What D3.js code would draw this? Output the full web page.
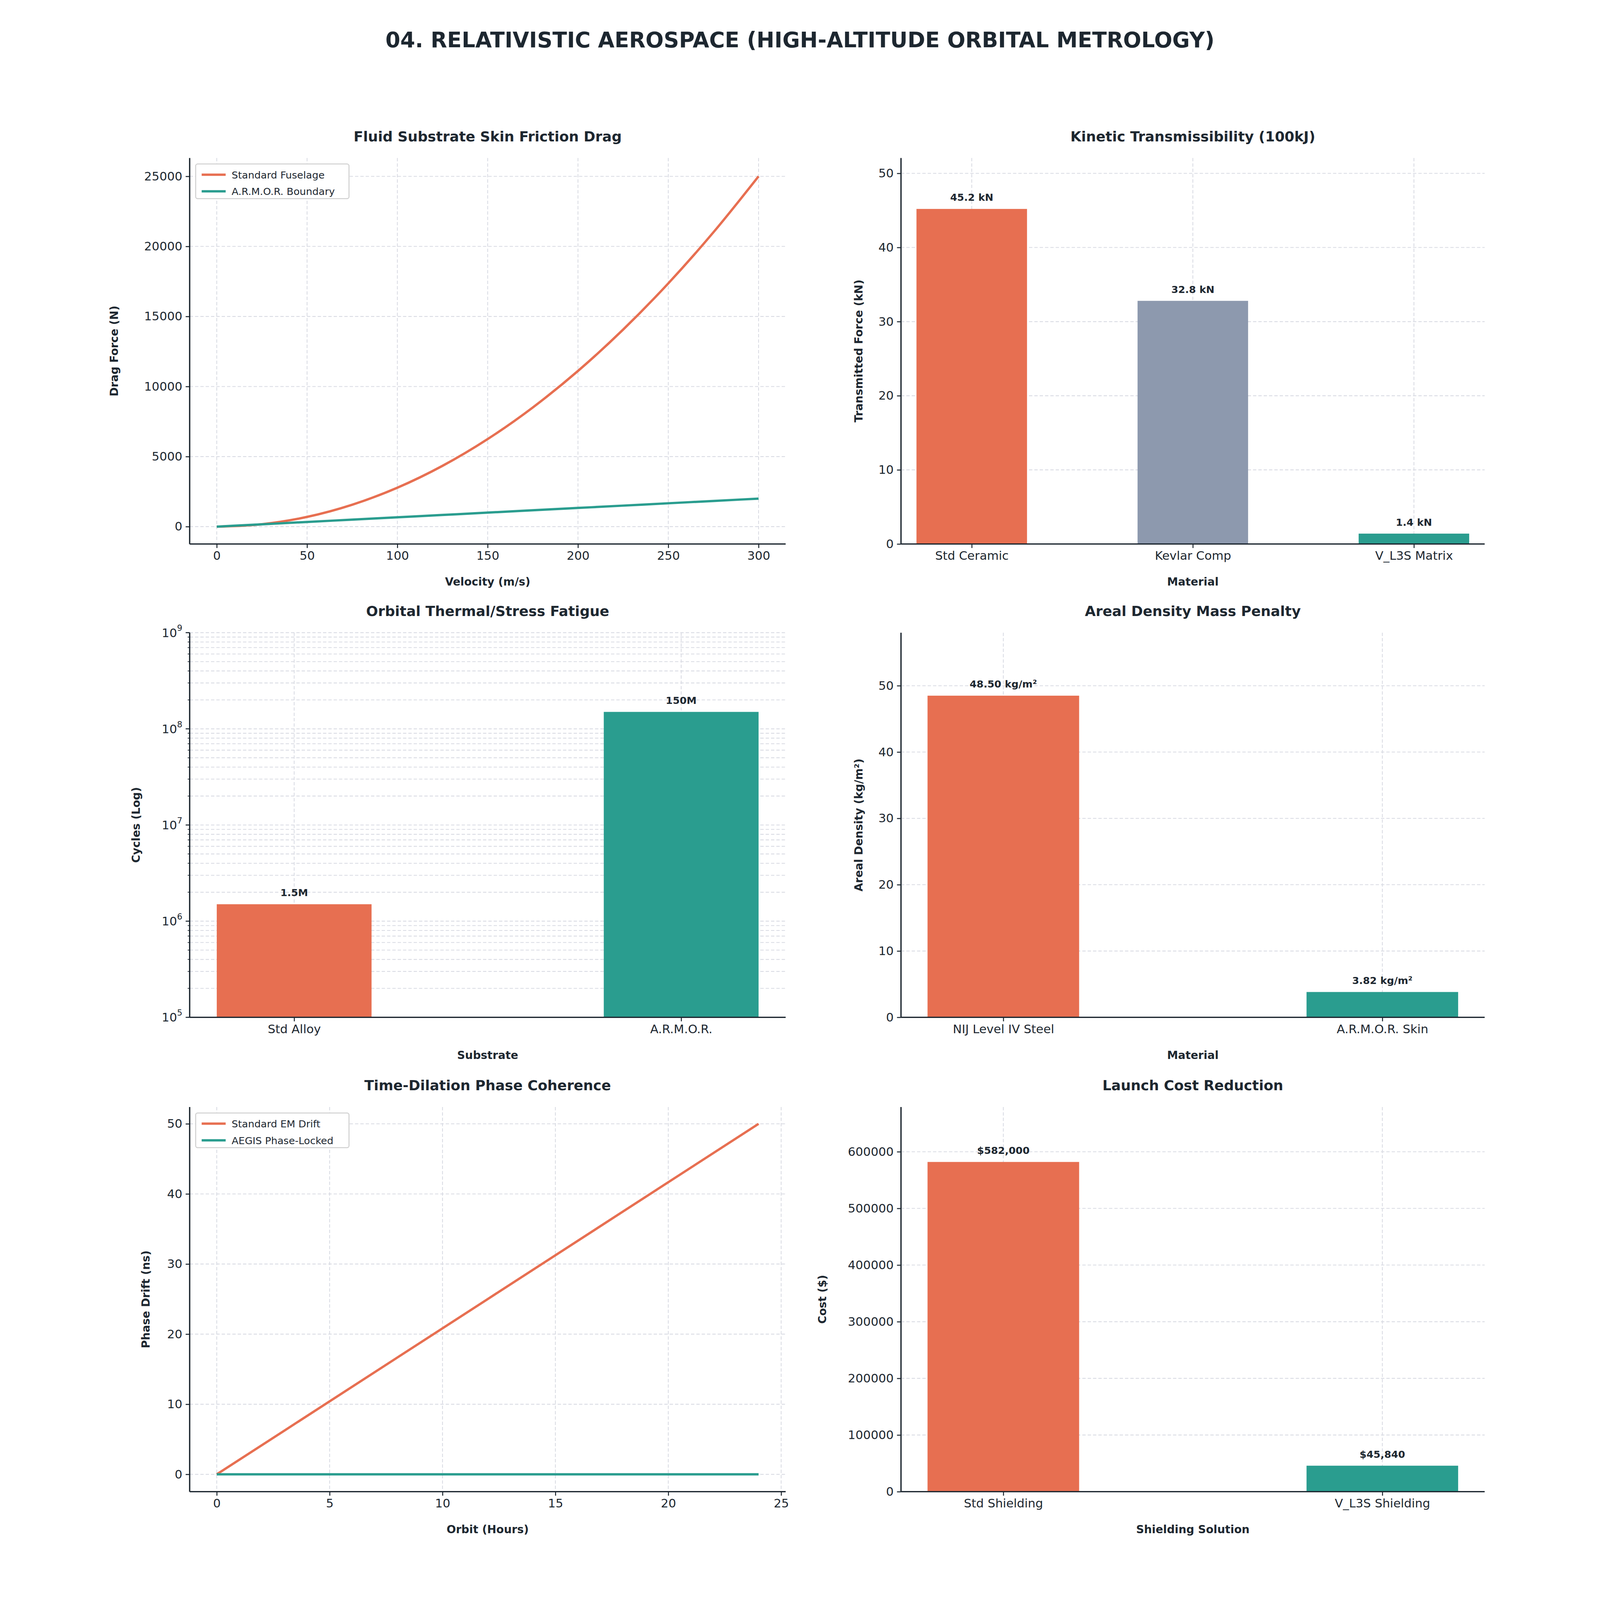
<!DOCTYPE html>
<html lang="en">
<head>
<meta charset="utf-8">
<title>Relativistic Aerospace</title>
<script src="https://cdn.jsdelivr.net/npm/d3@7/dist/d3.min.js"></script>
<style>
  html, body { margin: 0; padding: 0; background: #fff; overflow: hidden; }
  svg { display: block; width: 100vw; height: 100vh; }
  text { font-family: "DejaVu Sans", sans-serif; fill: #1d2730; }
  .tick text { font-size: 36px; }
  .grid line { stroke: #d9dbe3; stroke-width: 2.5; stroke-dasharray: 10,6; }
  .spine { stroke: #1d2730; stroke-width: 4; }
</style>
</head>
<body>
<script>
// ---- data ----
var velocity = [0, 25, 50, 75, 100, 125, 150, 175, 200, 225, 250, 275, 300];
var dragStandard = [0, 174, 694, 1563, 2778, 4340, 6250, 8507, 11111, 14063, 17361, 21007, 25000];
var dragArmor = [0, 167, 333, 500, 667, 833, 1000, 1167, 1333, 1500, 1667, 1833, 2000];

var kineticCats = ["Std Ceramic", "Kevlar Comp", "V_L3S Matrix"];
var kineticVals = [45.2, 32.8, 1.4];
var kineticLabels = ["45.2 kN", "32.8 kN", "1.4 kN"];

var fatigueCats = ["Std Alloy", "A.R.M.O.R."];
var fatigueVals = [1.5e6, 1.5e8];
var fatigueLabels = ["1.5M", "150M"];

var densityCats = ["NIJ Level IV Steel", "A.R.M.O.R. Skin"];
var densityVals = [48.5, 3.82];
var densityLabels = ["48.50 kg/m²", "3.82 kg/m²"];

var hours = [0, 6, 12, 18, 24];
var driftStandard = [0, 12.5, 25, 37.5, 50];
var driftAegis = [0, 0, 0, 0, 0];

var costCats = ["Std Shielding", "V_L3S Shielding"];
var costVals = [582000, 45840];
var costLabels = ["$582,000", "$45,840"];

var ORANGE = "#E76F51", TEAL = "#2A9D8F", GREY = "#8D99AE";

var svg = d3.select("body").append("svg")
  .attr("viewBox", "0 0 4200 4800")
  .attr("preserveAspectRatio", "xMidYMid meet");

svg.append("text").attr("x", 2100).attr("y", 142).attr("text-anchor", "middle")
  .attr("font-size", 64).attr("font-weight", "bold").text("04. RELATIVISTIC AEROSPACE (HIGH-ALTITUDE ORBITAL METROLOGY)");

var cols = [[269, 2057], [2403, 4154]];
var rows = [[474, 1632], [1898, 3052], [3321, 4475]];

function panel(c, r, title, xlabel, ylabel) {
  var x0 = cols[c][0], x1 = cols[c][1], y0 = rows[r][0], y1 = rows[r][1];
  var g = svg.append("g");
  g.append("text").attr("x", (x0 + x1) / 2).attr("y", y0 - 50).attr("text-anchor", "middle")
    .attr("font-size", 42).attr("font-weight", "bold").text(title);
  g.append("text").attr("x", (x0 + x1) / 2).attr("y", y1 + 125).attr("text-anchor", "middle")
    .attr("font-size", 33).attr("font-weight", "bold").text(xlabel);
  return {g: g, x0: x0, x1: x1, y0: y0, y1: y1, ylabel: ylabel};
}

function yLabel(p, offset) {
  p.g.append("text").attr("transform", "translate(" + (p.x0 - offset) + "," + ((p.y0 + p.y1) / 2) + ") rotate(-90)")
    .attr("text-anchor", "middle").attr("font-size", 33).attr("font-weight", "bold").text(p.ylabel);
}

function spines(p) {
  p.g.append("line").attr("class", "spine").attr("x1", p.x0).attr("x2", p.x0).attr("y1", p.y0).attr("y2", p.y1);
  p.g.append("line").attr("class", "spine").attr("x1", p.x0).attr("x2", p.x1).attr("y1", p.y1).attr("y2", p.y1);
}

function styleAxis(sel) {
  sel.select(".domain").remove();
  sel.selectAll(".tick line").attr("stroke", "#1d2730").attr("stroke-width", 3);
}

function grids(p, xs, xticks, ys, yticks) {
  var gg = p.g.append("g").attr("class", "grid");
  gg.selectAll(".gx").data(xticks).enter().append("line")
    .attr("x1", xs).attr("x2", xs).attr("y1", p.y0).attr("y2", p.y1);
  gg.selectAll(".gy").data(yticks).enter().append("line")
    .attr("x1", p.x0).attr("x2", p.x1).attr("y1", ys).attr("y2", ys);
}

function linePanel(p, xs, ys, xticks, yticks, series, legend) {
  grids(p, xs, xticks, ys, yticks);
  var line = d3.line().x(function(d) { return xs(d[0]); }).y(function(d) { return ys(d[1]); }).curve(d3.curveMonotoneX);
  series.forEach(function(s) {
    p.g.append("path").datum(s.x.map(function(v, i) { return [v, s.y[i]]; }))
      .attr("d", line).attr("fill", "none").attr("stroke", s.color).attr("stroke-width", 7);
  });
  p.g.append("g").attr("transform", "translate(0," + p.y1 + ")")
    .call(d3.axisBottom(xs).tickValues(xticks).tickSize(12).tickPadding(10)).call(styleAxis);
  p.g.append("g").attr("transform", "translate(" + p.x0 + ",0)")
    .call(d3.axisLeft(ys).tickValues(yticks).tickSize(12).tickPadding(10).tickFormat(d3.format("d"))).call(styleAxis);
  spines(p);
  // legend
  var lg = p.g.append("g").attr("transform", "translate(" + (p.x0 + 18) + "," + (p.y0 + 18) + ")");
  lg.append("rect").attr("width", 460).attr("height", 104).attr("rx", 6)
    .attr("fill", "#fff").attr("stroke", "#d0d0d0").attr("stroke-width", 3);
  legend.forEach(function(l, i) {
    var yy = 32 + i * 50;
    lg.append("line").attr("x1", 18).attr("x2", 90).attr("y1", yy).attr("y2", yy).attr("stroke", l.color).attr("stroke-width", 7);
    lg.append("text").attr("x", 108).attr("y", yy + 11).attr("font-size", 30).text(l.name);
  });
}

function barPanel(p, cats, vals, labels, colors, xdom, ys, yticks, fmt, bw) {
  var xs = d3.scaleLinear().domain(xdom).range([p.x0, p.x1]);
  var idx = cats.map(function(d, i) { return i; });
  grids(p, xs, idx, ys, yticks);
  var w = xs(bw) - xs(0);
  p.g.selectAll(".bar").data(vals).enter().append("rect")
    .attr("x", function(d, i) { return xs(i) - w / 2; })
    .attr("width", w)
    .attr("y", function(d) { return ys(d); })
    .attr("height", function(d) { return p.y1 - ys(d); })
    .attr("fill", function(d, i) { return colors[i]; });
  p.g.selectAll(".bl").data(vals).enter().append("text")
    .attr("x", function(d, i) { return xs(i); })
    .attr("y", function(d) { return ys(d) - 24; })
    .attr("text-anchor", "middle").attr("font-size", 30).attr("font-weight", "bold")
    .text(function(d, i) { return labels[i]; });
  p.g.append("g").attr("transform", "translate(0," + p.y1 + ")")
    .call(d3.axisBottom(xs).tickValues(idx).tickSize(12).tickPadding(10).tickFormat(function(i) { return cats[i]; })).call(styleAxis);
  if (fmt) {
    p.g.append("g").attr("transform", "translate(" + p.x0 + ",0)")
      .call(d3.axisLeft(ys).tickValues(yticks).tickSize(12).tickPadding(10).tickFormat(fmt)).call(styleAxis);
  }
  spines(p);
  return xs;
}

// Panel 1: drag
var p1 = panel(0, 0, "Fluid Substrate Skin Friction Drag", "Velocity (m/s)", "Drag Force (N)");
linePanel(p1,
  d3.scaleLinear().domain([-15, 315]).range([p1.x0, p1.x1]),
  d3.scaleLinear().domain([-1240, 26310]).range([p1.y1, p1.y0]),
  [0, 50, 100, 150, 200, 250, 300], [0, 5000, 10000, 15000, 20000, 25000],
  [{x: velocity, y: dragStandard, color: ORANGE}, {x: velocity, y: dragArmor, color: TEAL}],
  [{name: "Standard Fuselage", color: ORANGE}, {name: "A.R.M.O.R. Boundary", color: TEAL}]);
yLabel(p1, 215);

// Panel 2: kinetic
var p2 = panel(1, 0, "Kinetic Transmissibility (100kJ)", "Material", "Transmitted Force (kN)");
barPanel(p2, kineticCats, kineticVals, kineticLabels, [ORANGE, GREY, TEAL], [-0.32, 2.32],
  d3.scaleLinear().domain([0, 52.07]).range([p2.y1, p2.y0]), [0, 10, 20, 30, 40, 50], d3.format("d"), 0.5);
yLabel(p2, 115);

// Panel 3: fatigue (log)
var p3 = panel(0, 1, "Orbital Thermal/Stress Fatigue", "Substrate", "Cycles (Log)");
var ys3 = d3.scaleLog().domain([1e5, 1e9]).range([p3.y1, p3.y0]);
var minor = [];
[1e5, 1e6, 1e7, 1e8].forEach(function(b) { for (var k = 1; k <= 9; k++) minor.push(b * k); });
minor.push(1e9);
barPanel(p3, fatigueCats, fatigueVals, fatigueLabels, [ORANGE, TEAL], [-0.27, 1.27], ys3, minor, null, 0.4);
var la = p3.g.append("g").attr("transform", "translate(" + p3.x0 + ",0)");
la.selectAll(".mt").data(minor).enter().append("line")
  .attr("x1", -6).attr("x2", 0).attr("y1", ys3).attr("y2", ys3).attr("stroke", "#1d2730").attr("stroke-width", 2);
var major = [1e5, 1e6, 1e7, 1e8, 1e9];
la.selectAll(".Mt").data(major).enter().append("line")
  .attr("x1", -12).attr("x2", 0).attr("y1", ys3).attr("y2", ys3).attr("stroke", "#1d2730").attr("stroke-width", 3);
var lt = la.selectAll(".lt").data(major).enter().append("text")
  .attr("x", -22).attr("y", function(d) { return ys3(d) + 13; }).attr("text-anchor", "end").attr("font-size", 36);
lt.append("tspan").text("10");
lt.append("tspan").attr("dy", -18).attr("font-size", 25).text(function(d) { return Math.round(Math.log10(d)); });
yLabel(p3, 150);

// Panel 4: density
var p4 = panel(1, 1, "Areal Density Mass Penalty", "Material", "Areal Density (kg/m²)");
barPanel(p4, densityCats, densityVals, densityLabels, [ORANGE, TEAL], [-0.27, 1.27],
  d3.scaleLinear().domain([0, 58]).range([p4.y1, p4.y0]), [0, 10, 20, 30, 40, 50], d3.format("d"), 0.4);
yLabel(p4, 115);

// Panel 5: phase drift
var p5 = panel(0, 2, "Time-Dilation Phase Coherence", "Orbit (Hours)", "Phase Drift (ns)");
linePanel(p5,
  d3.scaleLinear().domain([-1.2, 25.2]).range([p5.x0, p5.x1]),
  d3.scaleLinear().domain([-2.47, 52.4]).range([p5.y1, p5.y0]),
  [0, 5, 10, 15, 20, 25], [0, 10, 20, 30, 40, 50],
  [{x: hours, y: driftStandard, color: ORANGE}, {x: hours, y: driftAegis, color: TEAL}],
  [{name: "Standard EM Drift", color: ORANGE}, {name: "AEGIS Phase-Locked", color: TEAL}]);
yLabel(p5, 120);

// Panel 6: cost
var p6 = panel(1, 2, "Launch Cost Reduction", "Shielding Solution", "Cost ($)");
barPanel(p6, costCats, costVals, costLabels, [ORANGE, TEAL], [-0.27, 1.27],
  d3.scaleLinear().domain([0, 679000]).range([p6.y1, p6.y0]), [0, 100000, 200000, 300000, 400000, 500000, 600000], d3.format("d"), 0.4);
yLabel(p6, 225);
</script>
</body>
</html>
